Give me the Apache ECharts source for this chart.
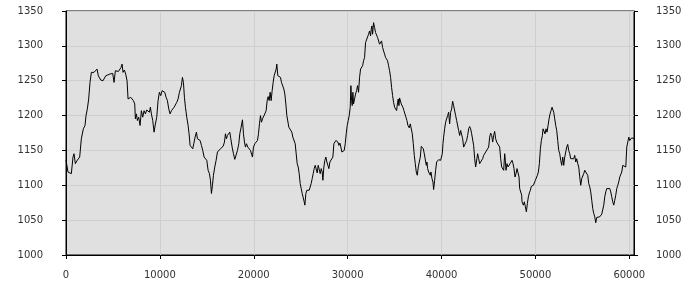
<!DOCTYPE html>
<html><head><meta charset="utf-8">
<script src="https://cdn.jsdelivr.net/npm/echarts@6/dist/echarts.min.js"></script>
<style>html,body{margin:0;padding:0;background:#fff}#c{width:700px;height:300px}</style>
</head><body><div id="c"></div>
<script>
const xTicks = [0, 10000, 20000, 30000, 40000, 50000, 60000];
const yMin = 1000, yMax = 1350, yStep = 50;
const xMax = 60500;

const part1 = [[0,1136],[213,1119],[568,1116.7],[746,1140.5],[853,1145.3],[995,1131],[1208,1136],[1457,1140.5],[1634,1166.7],[1847,1181],[2025,1185.8],[2132,1200],[2274,1209.6],[2416,1223.8],[2558,1247.6],[2700,1261.9],[2843,1259.5],[2985,1262],[3127,1264.3],[3305,1266.7],[3447,1257],[3696,1251],[3944,1250],[4122,1252.4],[4229,1257],[4406,1255.7],[4655,1259.5],[4832,1258],[4975,1260.5],[5117,1247.6],[5259,1264.3],[5401,1265.3],[5579,1263.3],[5721,1265.3],[5863,1269],[5970,1273.8],[6076,1262],[6218,1265.3],[6360,1259.5],[6503,1250],[6609,1223.8],[6751,1222.4],[6893,1226.2],[7036,1228.6],[7178,1221.5],[7320,1216.7],[7391,1195.3],[7498,1202.4],[7604,1192.9],[7746,1197.7],[7888,1185.8],[8030,1207],[8172,1197.7],[8315,1207],[8457,1202.4],[8599,1208],[8741,1209.6],[8883,1204.8],[8990,1212],[9096,1202.4],[9239,1192.9],[9381,1176.2],[9523,1188],[9665,1197.7],[9807,1221.5],[9949,1233.4],[10092,1228.6],[10234,1235.7],[10376,1238],[10518,1233.4],[10660,1226.2],[10802,1221.5],[10944,1209.6],[11086,1202.4],[11229,1207],[11371,1209.6],[11513,1212],[11655,1214.3],[11797,1219],[11939,1223.8],[12081,1233.4]];

const part2 = [[12188,1235.7],[12294,1242.9],[12401,1254.8],[12508,1247.6],[12614,1226.2],[12721,1212],[12863,1197.7],[13005,1185.8],[13111,1173.9],[13218,1157.2],[13360,1154.8],[13502,1152.4],[13609,1159.6],[13751,1169.1],[13893,1176.2],[14000,1166.7],[14142,1166.7],[14284,1164.3],[14426,1157.2],[14568,1150],[14710,1140.5],[14852,1138.2],[14995,1135.8],[15137,1121.5],[15279,1116.7],[15385,1107.2],[15492,1088.2],[15599,1100],[15705,1114.4],[15847,1126.3],[15989,1135.8],[16131,1147.7],[16274,1150],[16451,1152.4],[16593,1153.9],[16736,1155.8],[16878,1162],[16984,1173.9],[17091,1166.7],[17197,1171.5],[17340,1169.1],[17446,1176.2],[17553,1166.7],[17695,1154.8],[17837,1145.3],[17979,1137.2],[18121,1138.2],[18263,1150],[18406,1159.6],[18512,1173.9],[18654,1183.4],[18796,1193.9],[18903,1173.9],[19009,1162],[19116,1154.8],[19223,1159.6],[19365,1154.8],[19507,1152.4],[19649,1150],[19756,1152.4],[19862,1140.5],[19969,1154.8],[20111,1159.6],[20253,1159.6],[20395,1164.3],[20502,1173.9],[20608,1188.1],[20715,1200],[20822,1190.5],[20928,1195.3],[21070,1197.7],[21177,1202.4],[21319,1207.2],[21426,1221.5],[21532,1227.2],[21639,1221.5],[21745,1233.4],[21852,1221.5],[21958,1235.7],[22065,1247.6],[22172,1257.2],[22278,1259.5],[22385,1266.7],[22456,1273.8],[22562,1257.2],[22705,1256.2],[22847,1254.8],[22953,1247.6],[23095,1245.3],[23202,1238.1],[23309,1231],[23415,1216.7],[23522,1200],[23628,1197.7],[23735,1183.4],[23842,1185.8],[23948,1185.8],[24055,1176.2],[24161,1169.1],[24268,1171.5]];

const part3 = [[24305,1169.1],[24412,1159.6],[24518,1145.3],[24625,1131],[24732,1126.3],[24838,1116.7],[24945,1102.5],[25051,1095.3],[25158,1088.2],[25264,1090.6],[25371,1076.3],[25442,1071.5],[25549,1088.2],[25655,1092.9],[25797,1090.6],[25904,1092.9],[26011,1094.4],[26117,1102.5],[26224,1109.6],[26330,1116.7],[26437,1123.9],[26544,1128.6],[26650,1126.3],[26757,1117.7],[26863,1128.6],[26970,1126.3],[27077,1116.7],[27183,1123.9],[27290,1119.1],[27361,1107.2],[27467,1126.3],[27574,1135.8],[27680,1140.5],[27787,1133.4],[27894,1128.6],[28000,1123.9],[28107,1133.4],[28213,1131],[28320,1135.8],[28427,1140.5],[28533,1159.6],[28640,1159.6],[28746,1164.3],[28853,1166.7],[28960,1162],[29066,1157.2],[29173,1160.5],[29279,1154.8],[29386,1147.7],[29528,1147.7],[29635,1150],[29741,1159.6],[29848,1173.9],[29954,1185.8],[30061,1192.9],[30168,1200],[30274,1211.9],[30345,1242.9],[30416,1221.5],[30487,1214.3],[30558,1233.4],[30629,1216.7],[30736,1223.8],[30843,1231],[30949,1235.7],[31056,1242.9],[31162,1233.4],[31269,1254.8],[31376,1266.7],[31482,1269],[31589,1271.4],[31695,1278.6],[31802,1283.3],[31909,1304.8],[32015,1307.1],[32122,1302.4],[32228,1316.7],[32335,1321.4],[32442,1314.3],[32513,1323.8],[32584,1328.6],[32655,1316.7],[32761,1333.3],[32868,1326.2],[32975,1319],[33081,1316.7],[33188,1311.9],[33294,1309.5],[33401,1302.4],[33507,1304.8],[33614,1307.1],[33721,1297.6],[33827,1295.2],[33934,1288.1],[34040,1283.3],[34147,1281],[34254,1278.6],[34360,1271.4],[34467,1264.3],[34573,1254.8],[34680,1240.5],[34787,1228.6],[34893,1219],[35000,1211.9],[35106,1209.6],[35213,1207.2],[35319,1219],[35390,1223.8],[35461,1214.3],[35532,1225.3],[35639,1226.2],[35710,1216.7],[35781,1219],[35888,1211.9],[35995,1207.2],[36101,1202.4],[36208,1197.7],[36314,1192.9],[36421,1185.8]];

const part4 = [[36457,1185.8],[36564,1182.4],[36670,1188.1],[36777,1190.5],[36884,1173.9],[36990,1159.6],[37097,1142.9],[37203,1131],[37310,1119.1],[37416,1114.4],[37523,1126.3],[37630,1128.6],[37736,1140.5],[37843,1155.8],[37949,1154.8],[38056,1152.4],[38163,1145.3],[38269,1142.9],[38376,1128.6],[38447,1133.4],[38518,1123.9],[38625,1119.1],[38731,1116.7],[38802,1114.4],[38873,1119.1],[38980,1109.6],[39086,1104.8],[39157,1093.9],[39264,1107.2],[39371,1121.5],[39477,1133.4],[39584,1135.8],[39690,1136.7],[39797,1134.8],[39904,1135.8],[40010,1138.2],[40081,1145.3],[40152,1159.6],[40223,1169.1],[40330,1181],[40437,1190.5],[40543,1192.9],[40650,1200],[40756,1204.8],[40863,1188.1],[40969,1204.8],[41076,1209.6],[41183,1220.5],[41289,1214.3],[41396,1211.9],[41502,1200],[41609,1192.9],[41716,1190.5],[41822,1178.6],[41929,1171.5],[42035,1178.6],[42142,1181],[42249,1166.7],[42355,1154.8],[42462,1152.4],[42568,1152.4],[42675,1164.3],[42782,1171.5],[42888,1181],[42995,1184.3],[43101,1181],[43208,1173.9],[43314,1171.5],[43421,1157.2],[43528,1138.2],[43634,1126.3],[43741,1123.9],[43847,1145.3],[43954,1138.2],[44061,1131],[44167,1133.4],[44274,1128.6],[44380,1138.2],[44487,1142.9],[44594,1140.5],[44700,1147.7],[44807,1145.3],[44913,1147.7],[45020,1154.8],[45127,1169.1],[45233,1174.8],[45340,1171.5],[45446,1162],[45553,1171.5],[45659,1177.2],[45766,1166.7],[45873,1162],[45979,1162],[46086,1159.6],[46192,1154.8],[46299,1138.2],[46406,1126.3],[46512,1126.3],[46619,1121.5],[46725,1145.3],[46796,1135.8],[46867,1121.5],[46974,1131],[47081,1126.3],[47187,1123.9],[47294,1131],[47400,1128.6],[47507,1135.8],[47614,1131],[47720,1123.9],[47827,1111.9],[47933,1116.7],[48040,1123.9],[48147,1121.5],[48253,1111.9],[48324,1095.3],[48431,1092.9],[48537,1085.7],[48573,1076.2]];

const part5 = [[48716,1071.5],[48822,1076.3],[48929,1069.1],[49036,1062],[49142,1073.9],[49249,1083.4],[49355,1089.1],[49462,1092.9],[49568,1098.6],[49675,1096.7],[49782,1100],[49888,1097.7],[49995,1107.2],[50101,1109.6],[50208,1114.3],[50315,1119.1],[50421,1131],[50528,1152.4],[50634,1164.3],[50741,1171.5],[50812,1181],[50919,1178.6],[51025,1173.8],[51132,1181],[51238,1176.2],[51345,1185.7],[51452,1195.3],[51558,1202.4],[51665,1207.2],[51771,1211.9],[51842,1214.3],[51949,1204.8],[52056,1195.3],[52162,1185.7],[52269,1178.6],[52375,1164.3],[52482,1150],[52589,1145.3],[52695,1135.8],[52802,1128.6],[52908,1140.5],[53015,1128.6],[53121,1140.5],[53228,1147.7],[53335,1154.8],[53441,1158.6],[53548,1150],[53654,1145.3],[53761,1138.1],[53868,1140.5],[53974,1135.8],[54081,1138.1],[54187,1142.9],[54294,1133.4],[54400,1138.1],[54507,1131],[54614,1126.2],[54720,1112],[54827,1100],[54933,1109.6],[55040,1112],[55147,1116.7],[55253,1121.5],[55360,1123.9],[55466,1121.5],[55573,1114.3],[55680,1102.4],[55786,1097.7],[55893,1090.5],[55999,1078.6],[56106,1066.7],[56213,1059.6],[56319,1054.8],[56426,1046.3],[56532,1053.9],[56639,1054.8],[56745,1055.8],[56852,1054.8],[56959,1057.2],[57065,1058.6],[57172,1059.6],[57278,1071.5],[57385,1083.4],[57492,1090.5],[57598,1095.3],[57705,1097.7],[57811,1095.3],[57918,1095.3],[58024,1090.5],[58131,1083.4],[58238,1076.3],[58344,1071.5],[58451,1078.6],[58557,1085.8],[58664,1095.3],[58771,1100],[58877,1104.8],[58984,1112],[59090,1114.3],[59197,1119.1],[59304,1128.6],[59410,1128.6],[59517,1127.2],[59623,1126.2],[59730,1154.8],[59836,1161.9],[59943,1169.1],[60050,1164.3],[60156,1161.9],[60263,1168.1],[60369,1165.7],[60500,1166.7]];

const seriesData = part1.concat(part2, part3, part4, part5);

const plain = v => String(v);
const font = {fontFamily: 'DejaVu Sans', fontSize: 10, color: '#333', formatter: plain};
const chart = echarts.init(document.getElementById('c'), null, {renderer: 'canvas'});
const yAxisBase = {
  type: 'value', min: yMin, max: yMax, interval: yStep,
  axisLine: {show: true, lineStyle: {color: '#000', width: 1}},
  axisTick: {show: true, length: 4, lineStyle: {color: '#000'}},
};
chart.setOption({
  animation: false,
  backgroundColor: '#fff',
  grid: {left: 66, right: 66, top: 11, bottom: 45, show: true, backgroundColor: '#e0e0e0', borderColor: '#000', borderWidth: 1},
  xAxis: {
    type: 'value', min: 0, max: xMax, interval: 10000,
    axisLine: {show: true, onZero: false, lineStyle: {color: '#000', width: 1}},
    axisTick: {show: true, length: 4, customValues: xTicks, lineStyle: {color: '#000'}},
    axisLabel: Object.assign({margin: 15, customValues: xTicks}, font),
    splitLine: {show: true, lineStyle: {color: '#cfcfcf', width: 1}}
  },
  yAxis: [
    Object.assign({}, yAxisBase, {position: 'left',
      axisLabel: Object.assign({margin: 23}, font),
      splitLine: {show: true, lineStyle: {color: '#cfcfcf', width: 1}}}),
    Object.assign({}, yAxisBase, {position: 'right',
      axisLabel: Object.assign({margin: 22}, font),
      splitLine: {show: false}})
  ],
  series: [{
    type: 'line', data: seriesData, showSymbol: false, symbol: 'none',
    lineStyle: {color: '#000', width: 1}, silent: true
  }]
});
</script></body></html>
